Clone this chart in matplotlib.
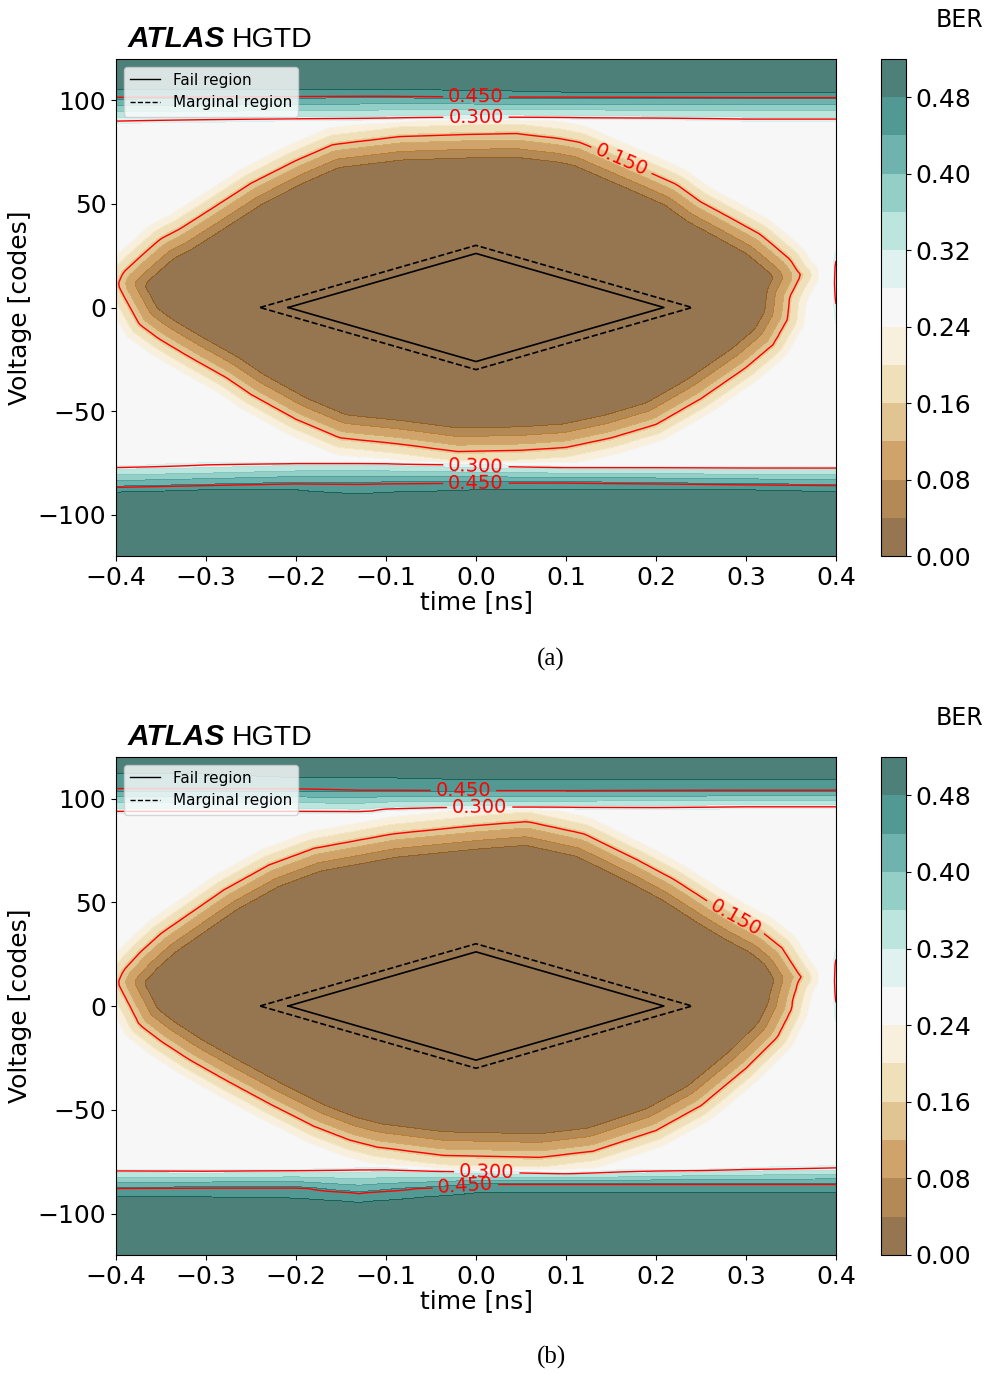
import numpy as np
import matplotlib
matplotlib.use("Agg")
import matplotlib.pyplot as plt
from matplotlib.lines import Line2D

# ---- data ----
# 0.15 BER contour of the eye (upper and lower edge), panel (a)
eye_t_up_a = [-0.400, -0.392, -0.373, -0.351, -0.329, -0.300, -0.250, -0.200, -0.159, -0.084,
              -0.010, 0.045, 0.093, 0.116, 0.193, 0.223, 0.249, 0.286, 0.316, 0.349, 0.359, 0.362, 0.400]
eye_v_up_a = [9, 17, 24.6, 33, 38, 46, 60, 71, 78.7, 82.6,
              83.6, 84, 81.6, 79.7, 65.2, 59.4, 51.2, 42.5, 35.3, 23.2, 16.4, 15.5, -12]
eye_t_lo_a = [-0.400, -0.392, -0.374, -0.351, -0.318, -0.277, -0.250, -0.200, -0.151, -0.084,
              -0.021, 0.050, 0.100, 0.150, 0.200, 0.250, 0.300, 0.330, 0.346, 0.349, 0.359, 0.362, 0.400]
eye_v_lo_a = [13, 6, -8.2, -15.5, -24, -34, -42, -54, -63, -66,
              -69.6, -69, -67.6, -63, -56.5, -44, -29, -18, -5.8, 5.3, 14, 15.5, 42]

# panel (b)
eye_t_up_b = [-0.400, -0.392, -0.373, -0.350, -0.320, -0.280, -0.230, -0.180, -0.092, 0.000,
              0.057, 0.120, 0.179, 0.220, 0.260, 0.288, 0.319, 0.340, 0.358, 0.362, 0.400]
eye_v_up_b = [9, 17, 26, 35, 44, 56, 68, 76, 83, 87,
              88.9, 83, 70.5, 61, 49.8, 42.5, 35.3, 28, 15.9, 13.5, -12]
eye_t_lo_b = [-0.400, -0.392, -0.374, -0.350, -0.318, -0.277, -0.230, -0.180, -0.140, -0.110,
              -0.037, 0.071, 0.130, 0.200, 0.250, 0.300, 0.335, 0.350, 0.352, 0.358, 0.362, 0.400]
eye_v_lo_b = [13, 6, -9, -17, -26, -36, -47, -58, -64.7, -68,
              -72, -73, -70, -60, -48, -30, -15, -2, 2.9, 12, 13.5, 42]

# rail contours (0.30, 0.45 and start of the 0.48 band)
rail_t = [-0.40, -0.30, -0.20, -0.13, -0.10, 0.00, 0.10, 0.20, 0.30, 0.40]
top30_a = [90.0, 90.3, 90.6, 90.8, 91.0, 91.8, 91.5, 91.0, 90.5, 90.5]
top45_a = [101.3, 101.5, 101.8, 102.0, 102.0, 101.5, 101.5, 101.5, 101.5, 101.5]
top48_a = [105.0, 105.0, 105.0, 105.0, 105.0, 104.5, 104.0, 103.5, 103.0, 103.0]
bot30_a = [-76.8, -76.0, -74.9, -74.9, -75.0, -76.3, -77.0, -77.0, -77.3, -77.3]
bot45_a = [-87.0, -86.0, -85.0, -85.0, -84.8, -84.5, -84.5, -85.0, -85.5, -86.0]
bot48_a = [-88.5, -88.0, -88.0, -90.0, -89.0, -88.0, -87.5, -87.5, -88.0, -88.5]

top30_b = [93.7, 93.7, 93.7, 93.5, 94.5, 95.7, 95.7, 95.5, 96.0, 96.0]
top45_b = [104.3, 104.3, 104.3, 104.0, 104.0, 103.4, 103.4, 103.8, 104.0, 104.0]
top48_b = [112.0, 112.0, 110.0, 110.0, 110.0, 109.0, 109.0, 109.0, 109.0, 109.0]
bot30_b = [-79.2, -79.5, -79.0, -78.5, -78.5, -80.0, -80.7, -79.5, -78.5, -78.0]
bot45_b = [-87.9, -87.5, -87.4, -90.3, -89.0, -86.0, -86.0, -86.0, -86.0, -86.0]
bot48_b = [-92.0, -92.0, -92.5, -94.5, -93.5, -90.0, -89.5, -89.5, -89.5, -89.5]

# next eye crossing showing up in the last time column
edge_v = [-14, -6, 0, 5, 12, 20, 25, 32]
edge_ber = [0.26, 0.285, 0.295, 0.31, 0.32, 0.31, 0.29, 0.26]

# fail / marginal diamonds (half width in ns, half height in codes)
fail_t, fail_v = 0.2087, 26.1
marg_t, marg_v = 0.24, 30.0

# label positions of the red contours
labels_a = [(0.0, 101.5), (0.0, 91.8), (0.162, 71.5), (0.0, -76.0), (0.0, -84.5)]
labels_b = [(-0.014, 103.4), (0.004, 95.7), (0.288, 42.5), (0.012, -79.7), (-0.012, -86.0)]

levels = np.arange(0, 0.53, 0.04)
t = np.linspace(-0.4, 0.4, 161)
v = np.linspace(-120, 120, 121)
PX_T, PX_V = 900.0, 2.07   # screen scale, px per ns / px per code


def ber_map(tu, vu, tl, vl, t30, t45, t48, b30, b45, b48):
    # eye edge sampled finely, distance measured in screen pixels
    tf = np.linspace(-0.4, 0.4, 1601)
    upf = np.interp(tf, tu, vu)
    lof = np.interp(tf, tl, vl)
    m = upf >= lof
    bx = np.concatenate([tf[m], tf[m]]) * PX_T
    by = np.concatenate([upf[m], lof[m]]) * PX_V
    up = np.interp(t, tu, vu)
    lo = np.interp(t, tl, vl)

    Z = np.zeros((len(v), len(t)))
    for j, tt in enumerate(t):
        dist = np.sqrt((tt * PX_T - bx[None, :]) ** 2 + (v[:, None] * PX_V - by[None, :]) ** 2).min(axis=1)
        inside = (v < up[j]) & (v > lo[j])
        d = np.where(inside, -dist, dist)
        eye = np.interp(d, [-30, 0, 21], [0.01, 0.15, 0.26])
        a30, a45, a48 = [np.interp(tt, rail_t, x) for x in (t30, t45, t48)]
        top = np.interp(v, [a30 - 4, a30 - 1, a30, a45, a48, a48 + 6],
                        [0, 0.26, 0.30, 0.45, 0.48, 0.51])
        c30, c45, c48 = [np.interp(tt, rail_t, x) for x in (b30, b45, b48)]
        bot = np.interp(v, [c48 - 6, c48, c45, c30, c30 + 1, c30 + 4],
                        [0.51, 0.48, 0.45, 0.30, 0.26, 0])
        Z[:, j] = np.maximum(eye, np.maximum(top, bot))
    Z[:, -1] = np.maximum(Z[:, -1], np.interp(v, edge_v, edge_ber, left=0, right=0))
    return Z


Z_a = ber_map(eye_t_up_a, eye_v_up_a, eye_t_lo_a, eye_v_lo_a,
              top30_a, top45_a, top48_a, bot30_a, bot45_a, bot48_a)
Z_b = ber_map(eye_t_up_b, eye_v_up_b, eye_t_lo_b, eye_v_lo_b,
              top30_b, top45_b, top48_b, bot30_b, bot45_b, bot48_b)

W, H = 989, 1374
fig = plt.figure(figsize=(W / 100, H / 100), dpi=100)


def draw_panel(Z, labels, top_px, bot_px, tag, tag_y):
    ax = fig.add_axes([116 / W, 1 - bot_px / H, 720 / W, (bot_px - top_px) / H])
    cax = fig.add_axes([881 / W, 1 - bot_px / H, 25 / W, (bot_px - top_px) / H])
    cf = ax.contourf(t, v, Z, levels=levels, cmap="BrBG", alpha=0.7)
    cs = ax.contour(t, v, Z, levels=[0.15, 0.30, 0.45], colors="red", linewidths=1)
    ax.clabel(cs, fmt="%1.3f", fontsize=14, inline=True, manual=labels)

    ax.plot([-fail_t, 0, fail_t, 0, -fail_t], [0, fail_v, 0, -fail_v, 0],
            color="black", lw=1.2)
    ax.plot([-marg_t, 0, marg_t, 0, -marg_t], [0, marg_v, 0, -marg_v, 0],
            color="black", lw=1.2, ls="--")
    handles = [Line2D([], [], color="black", lw=1, label="Fail region"),
               Line2D([], [], color="black", lw=1, ls="--", label="Marginal region")]
    ax.legend(handles=handles, loc="upper left", fontsize=11)

    ax.set_xlim(-0.4, 0.4)
    ax.set_ylim(-120, 120)
    ax.set_xticks(np.arange(-0.4, 0.41, 0.1))
    ax.set_yticks([-100, -50, 0, 50, 100])
    ax.tick_params(labelsize=18)
    ax.set_xlabel("time [ns]", fontsize=18, labelpad=0)
    ax.set_ylabel("Voltage [codes]", fontsize=18)

    ax.text(0.016, 1.024, "ATLAS", transform=ax.transAxes, fontsize=21.5,
            family="Liberation Sans", weight="bold", style="italic", va="baseline")
    ax.text(0.161, 1.024, "HGTD", transform=ax.transAxes, fontsize=20.5,
            family="Liberation Sans", va="baseline")

    cb = fig.colorbar(cf, cax=cax, ticks=np.arange(0, 0.49, 0.08))
    cb.ax.tick_params(labelsize=18)
    fig.text(960 / W, 1 - (top_px - 39) / H, "BER", fontsize=17, ha="center", va="center")
    fig.text(551 / W, 1 - tag_y / H, tag, fontsize=18, family="Liberation Serif",
             ha="center", va="center")


draw_panel(Z_a, labels_a, 59, 556, "(a)", 659)
draw_panel(Z_b, labels_b, 757, 1255, "(b)", 1357)

fig.savefig("out.png", dpi=100)
